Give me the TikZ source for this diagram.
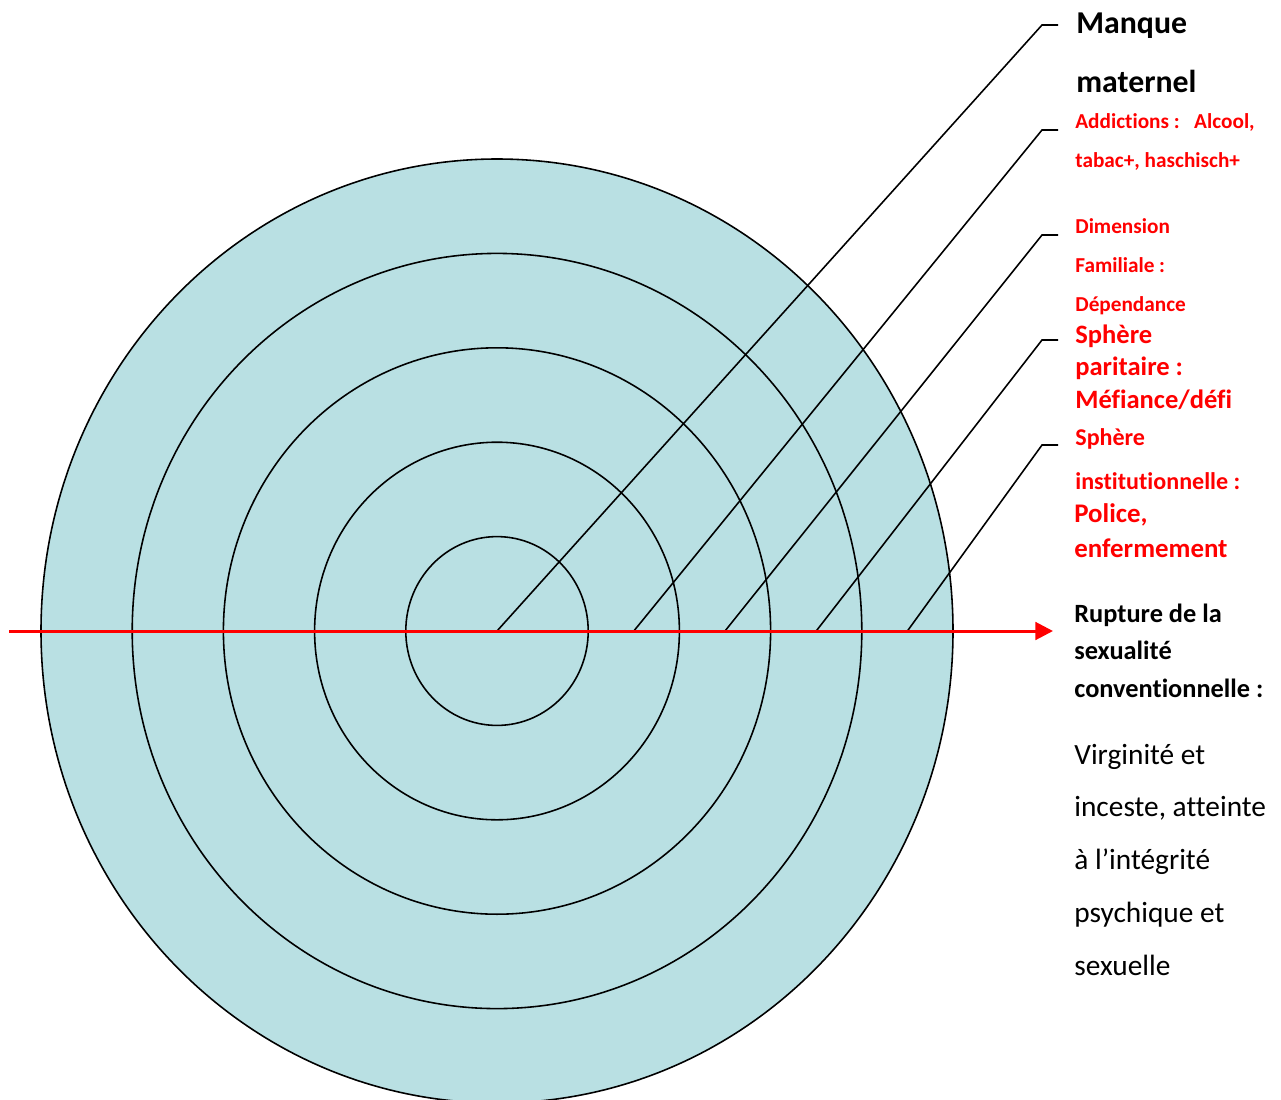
\documentclass[tikz,border=0pt]{standalone}
\usepackage{fontspec}
\setmainfont{Carlito}[Ligatures={NoCommon}]
\usepackage{xcolor}
\usetikzlibrary{arrows.meta, positioning, calc}
\definecolor{ringfill}{RGB}{185,224,227}
\definecolor{labelred}{RGB}{255,0,0}

\begin{document}
\begin{tikzpicture}[
  x=0.02cm, y=-0.02cm,
  ring/.style={draw=black, line width=0.9pt, fill=ringfill},
  leader/.style={draw=black, line width=0.9pt},
  axisline/.style={-{Triangle[length=10pt, width=10pt]}, line width=1.7pt, labelred},
  label/.style={anchor=base west, inner sep=0pt, align=left},
  bigtitle/.style={label, font=\bfseries\fontsize{18.1}{33.4}\selectfont},
  smallred/.style={label, labelred, font=\bfseries\fontsize{12.1}{22.1}\selectfont},
  midred/.style={label, labelred, font=\bfseries\fontsize{15.1}{18.4}\selectfont}
]
\useasboundingbox (0,0) rectangle (1281,1099);

% target rings
\coordinate (centre) at (497,631);
\foreach \k in {5,4,3,2,1}
  \path[ring] (centre) ellipse [x radius=91.2*\k, y radius=94.4*\k];

% labels (placed at the baseline of their last line)
\node[bigtitle] (manque) at (1076,92) {Manque\\maternel};
\node[smallred] (addict) at (1075,167) {Addictions :\ \ \ Alcool,\\tabac+, haschisch+};
\node[smallred] (famille) at (1075,311) {Dimension\\Familiale :\\Dépendance};
\node[midred] (paritaire) at (1075,408) {Sphère\\paritaire :\\Méfiance/défi};
\node[label, labelred, font=\bfseries\fontsize{13.7}{24.9}\selectfont] (institution) at (1075,489) {Sphère\\institutionnelle :};
\node[label, labelred, font=\bfseries\fontsize{15.3}{19.8}\selectfont] (police) at (1074,557) {Police,\\enfermement};
\node[label, font=\bfseries\fontsize{15}{21.3}\selectfont] (rupture) at (1074,697) {Rupture de la\\sexualité\\conventionnelle :};
\node[label, font=\fontsize{16.7}{30}\selectfont] (virginite) at (1074,975) {Virginité et\\inceste, atteinte\\à l’intégrité\\psychique et\\sexuelle};

% leaders
\coordinate (k1) at (1042,25);
\coordinate (k2) at (1042,130);
\coordinate (k3) at (1042,235);
\coordinate (k4) at (1042,340);
\coordinate (k5) at (1042,445);
\draw[leader] (centre) -- (k1) -- ++(16,0);
\draw[leader] ($(centre)+(136.8,0)$) -- (k2) -- ++(16,0);
\draw[leader] ($(centre)+(228,0)$) -- (k3) -- ++(16,0);
\draw[leader] ($(centre)+(319.2,0)$) -- (k4) -- ++(16,0);
\draw[leader] ($(centre)+(410.4,0)$) -- (k5) -- ++(16,0);

% rupture axis
\coordinate (axisstart) at (9,631);
\coordinate (axisend) at (1053,631);
\draw[axisline] (axisstart) -- (axisend);
\end{tikzpicture}
\end{document}
